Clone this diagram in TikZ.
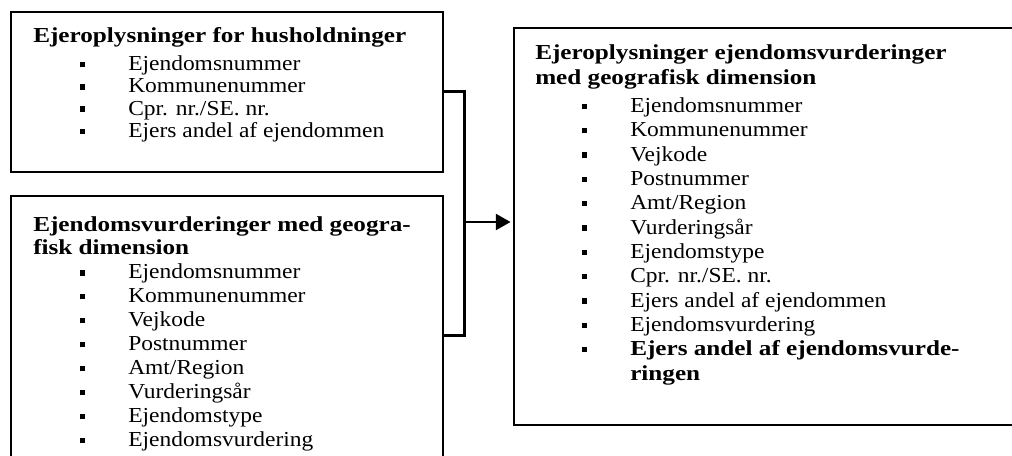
\documentclass[tikz,border=0pt]{standalone}
\usepackage{fontspec}
\setmainfont{Liberation Serif}[FakeStretch=1.1,BoldFeatures={FakeStretch=1.18}]
\usetikzlibrary{arrows.meta,fit}

% one bulleted entry: square bullet, then the text at a fixed tab
\newcommand\bul[1]{\makebox[71.25pt][l]{\hspace*{35pt}\raisebox{2.5pt}{\rule{4.1pt}{4.1pt}}}#1\par}
\newcommand\cont[1]{\hspace*{71.25pt}#1\par}
% text block: width, line pitch, body
\newcommand\txtblock[3]{%
  \begin{minipage}[t]{#1}\fontsize{16pt}{#2}\selectfont
  \setlength\parindent{0pt}\setlength\baselineskip{#2}\lineskiplimit=-\maxdimen
  #3\end{minipage}}

\tikzset{
  box/.style={draw=black, line width=1.2pt, inner sep=0pt},
  txt/.style={inner sep=0pt, anchor=base west},
  link/.style={line width=2.25pt, line cap=rect},
  feed/.style={line width=1.6pt, -{Triangle[length=11pt,width=12pt]}, shorten >=2pt}
}

\begin{document}
\begin{tikzpicture}[x=0.75pt,y=-0.75pt]
\useasboundingbox (0,0) rectangle (1012,456);
\clip (0,0) rectangle (1012,456);

% the three boxes (the lower and the right one run past the edge)
\node[box, fit={(11,12) (443,172)}] (hh) {};
\node[box, fit={(11,196) (443,480)}] (ev) {};
\node[box, fit={(514,28) (1030,425)}] (res) {};

% contents
\node[txt] (hhtxt) at (33,43) {\txtblock{320pt}{16.65pt}{%
  \textbf{Ejeroplysninger for husholdninger}\par\vspace{4.2pt}
  \bul{Ejendomsnummer}
  \bul{Kommunenummer}
  \bul{Cpr. nr./SE. nr.}
  \bul{Ejers andel af ejendommen}}};

\node[txt] (evtxt) at (33,231) {\txtblock{320pt}{17.95pt}{%
  \textbf{Ejendomsvurderinger med geogra-}\par
  \textbf{fisk dimension}\par
  \bul{Ejendomsnummer}
  \bul{Kommunenummer}
  \bul{Vejkode}
  \bul{Postnummer}
  \bul{Amt/Region}
  \bul{Vurderingsår}
  \bul{Ejendomstype}
  \bul{Ejendomsvurdering}}};

\node[txt] (restxt) at (535,60) {\txtblock{360pt}{18.25pt}{%
  \textbf{Ejeroplysninger ejendomsvurderinger}\par
  \textbf{med geografisk dimension}\par\vspace{2.8pt}
  \bul{Ejendomsnummer}
  \bul{Kommunenummer}
  \bul{Vejkode}
  \bul{Postnummer}
  \bul{Amt/Region}
  \bul{Vurderingsår}
  \bul{Ejendomstype}
  \bul{Cpr. nr./SE. nr.}
  \bul{Ejers andel af ejendommen}
  \bul{Ejendomsvurdering}
  \bul{\textbf{Ejers andel af ejendomsvurde-}}
  \cont{\textbf{ringen}}}};

% bracket joining the two sources, and the arrow to the result
\coordinate (jt) at (464,92);
\coordinate (jb) at (464,335);
\coordinate (jm) at (464,222);
\draw[link] (hh.east |- jt) -- (jt) -- (jb) -- (ev.east |- jb);
\draw[feed] (jm) -- (res.west |- jm);
\end{tikzpicture}
\end{document}
